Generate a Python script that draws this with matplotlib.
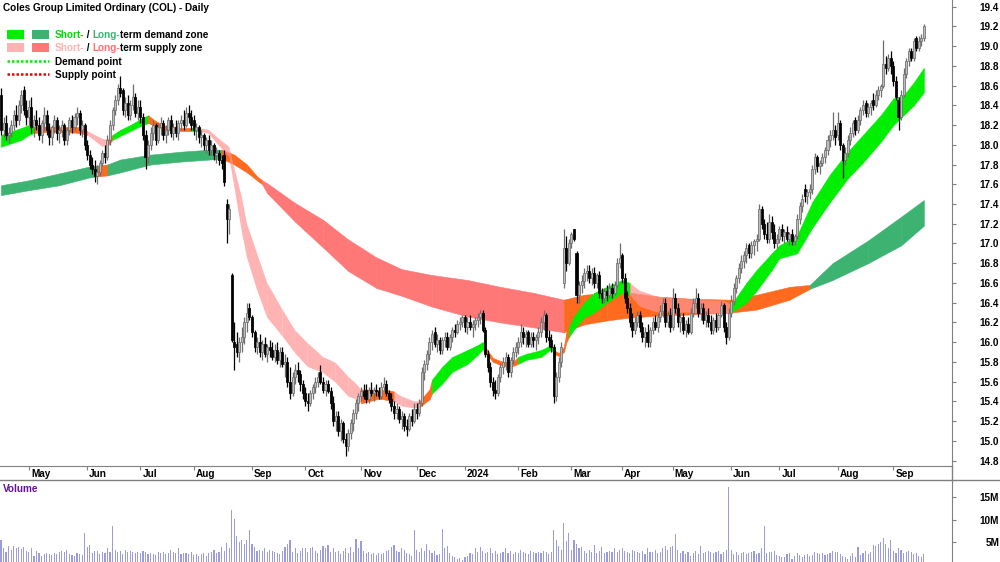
import matplotlib
matplotlib.use('Agg')
import matplotlib.pyplot as plt
import matplotlib.transforms as mtransforms
from matplotlib.patches import Rectangle
from matplotlib.lines import Line2D
import numpy as np
import pandas as pd

plt.rcParams['font.family'] = ['Liberation Sans', 'DejaVu Sans']

# ASX trading days shown on the chart
holidays = ['2023-04-25', '2023-06-12', '2023-12-25', '2023-12-26', '2024-01-01',
            '2024-01-26', '2024-03-29', '2024-04-01', '2024-04-25', '2024-06-10']
dates = pd.bdate_range('2023-04-13', '2024-09-18')
dates = dates[~dates.isin(pd.to_datetime(holidays))]

# daily OHLC, one row of values per month
opens = [
    18.50, 18.15, 18.22, 18.10, 18.12, 18.20, 18.30, 18.25, 18.40, 18.55, 18.35,
    18.28, 18.38, 18.18, 18.25, 18.20, 18.10, 18.22, 18.30, 18.15, 18.08, 18.18, 18.25, 18.12, 18.15, 18.20, 18.05, 18.15, 18.25, 18.18, 18.28, 18.32, 18.15, 18.20,
    18.00, 17.90, 17.80, 17.75, 17.68, 17.72, 17.82, 17.92, 17.88, 18.05, 18.20, 18.35, 18.45, 18.58, 18.55, 18.35, 18.42, 18.30, 18.40, 18.48, 18.32,
    18.38, 18.28, 18.10, 17.88, 18.00, 18.12, 18.20, 18.05, 18.18, 18.22, 18.10, 18.15, 18.25, 18.12, 18.18, 18.12, 18.22, 18.25, 18.20, 18.32, 18.28,
    18.25, 18.15, 18.18, 18.08, 18.10, 18.00, 18.05, 17.95, 18.00, 17.90, 17.92, 17.85, 17.90, 17.40, 17.25, 16.68, 16.00, 15.98, 15.90, 16.00, 16.05, 16.20, 16.35,
    16.25, 16.10, 15.95, 16.00, 15.90, 15.98, 15.88, 15.95, 15.92, 15.85, 15.92, 15.82, 15.90, 15.78, 15.80, 15.60, 15.48, 15.65, 15.72, 15.68, 15.58,
    15.48, 15.40, 15.38, 15.48, 15.55, 15.60, 15.70, 15.60, 15.52, 15.58, 15.50, 15.38, 15.20, 15.25, 15.10, 15.18, 15.02, 14.95, 15.08, 15.18, 15.28, 15.38,
    15.45, 15.50, 15.52, 15.42, 15.52, 15.48, 15.52, 15.50, 15.45, 15.55, 15.58, 15.48, 15.42, 15.35, 15.28, 15.32, 15.22, 15.25, 15.15, 15.12, 15.25, 15.20,
    15.32, 15.28, 15.38, 15.70, 15.78, 15.88, 16.00, 16.10, 15.98, 16.02, 15.92, 16.02, 16.05, 15.95, 16.05, 16.12, 16.10, 16.18, 16.20,
    16.25, 16.15, 16.20, 16.15, 16.18, 16.22, 16.25, 16.30, 16.12, 15.88, 15.75, 15.60, 15.52, 15.48, 15.65, 15.75, 15.80, 15.85, 15.70, 15.82, 15.90,
    15.95, 16.00, 16.10, 16.05, 16.10, 15.98, 16.05, 16.02, 16.05, 16.10, 16.20, 16.28, 16.05, 16.02, 15.95, 15.45, 15.65, 15.80, 16.60, 16.95, 16.80,
    17.00, 17.15, 16.90, 16.48, 16.58, 16.62, 16.70, 16.72, 16.65, 16.70, 16.60, 16.68, 16.50, 16.45, 16.52, 16.48, 16.55, 16.50, 16.58, 16.80,
    16.88, 16.65, 16.45, 16.35, 16.20, 16.12, 16.20, 16.28, 16.15, 16.05, 16.10, 16.00, 16.12, 16.20, 16.15, 16.25, 16.32, 16.40, 16.20, 16.28,
    16.15, 16.45, 16.35, 16.20, 16.25, 16.12, 16.18, 16.10, 16.30, 16.40, 16.45, 16.30, 16.35, 16.22, 16.28, 16.20, 16.12, 16.22, 16.15, 16.28, 16.38, 16.15, 16.05,
    16.30, 16.42, 16.55, 16.65, 16.75, 16.82, 16.88, 16.98, 16.90, 16.98, 17.02, 17.05, 17.35, 17.20, 17.10, 17.05, 17.22, 17.12, 17.00,
    17.05, 17.15, 17.08, 17.12, 17.05, 17.10, 17.02, 17.08, 17.25, 17.38, 17.55, 17.48, 17.52, 17.55, 17.75, 17.88, 17.78, 17.82, 17.88, 17.95, 18.05, 18.10, 18.15,
    18.10, 18.22, 18.00, 17.85, 17.92, 18.05, 18.12, 18.25, 18.15, 18.25, 18.35, 18.42, 18.32, 18.38, 18.45, 18.40, 18.50, 18.55, 18.60, 18.82, 18.78, 18.88,
    18.80, 18.65, 18.45, 18.28, 18.50, 18.72, 18.85, 18.95, 18.88, 19.08, 18.98, 19.05, 19.08,
]
highs = [
    18.58, 18.28, 18.30, 18.18, 18.25, 18.35, 18.40, 18.45, 18.55, 18.60, 18.45,
    18.45, 18.48, 18.30, 18.35, 18.28, 18.25, 18.38, 18.35, 18.22, 18.20, 18.30, 18.28, 18.20, 18.25, 18.22, 18.18, 18.28, 18.30, 18.32, 18.38, 18.35, 18.25, 18.22,
    18.05, 17.95, 17.88, 17.85, 17.80, 17.85, 17.95, 18.00, 18.10, 18.25, 18.38, 18.50, 18.62, 18.70, 18.58, 18.48, 18.50, 18.45, 18.62, 18.52, 18.45,
    18.45, 18.32, 18.15, 18.05, 18.18, 18.25, 18.22, 18.22, 18.28, 18.25, 18.20, 18.28, 18.30, 18.22, 18.25, 18.25, 18.30, 18.35, 18.38, 18.40, 18.35,
    18.30, 18.22, 18.20, 18.15, 18.12, 18.08, 18.10, 18.05, 18.02, 17.98, 17.95, 17.90, 17.95, 17.45, 17.40, 16.70, 16.20, 16.10, 16.05, 16.15, 16.25, 16.40, 16.40,
    16.28, 16.12, 16.05, 16.08, 16.02, 16.05, 15.98, 16.02, 16.00, 15.98, 16.00, 15.95, 15.95, 15.88, 15.85, 15.75, 15.70, 15.78, 15.80, 15.72, 15.62,
    15.55, 15.48, 15.52, 15.58, 15.65, 15.70, 15.77, 15.65, 15.62, 15.62, 15.55, 15.45, 15.30, 15.30, 15.22, 15.20, 15.08, 15.12, 15.22, 15.32, 15.42, 15.48,
    15.55, 15.58, 15.58, 15.55, 15.60, 15.55, 15.58, 15.55, 15.60, 15.65, 15.62, 15.52, 15.48, 15.40, 15.38, 15.35, 15.30, 15.28, 15.22, 15.28, 15.32, 15.38,
    15.38, 15.42, 15.75, 15.82, 15.92, 16.05, 16.12, 16.15, 16.08, 16.05, 16.05, 16.10, 16.10, 16.08, 16.15, 16.18, 16.22, 16.25, 16.28,
    16.28, 16.25, 16.28, 16.22, 16.25, 16.30, 16.33, 16.33, 16.15, 15.92, 15.80, 15.65, 15.62, 15.68, 15.78, 15.85, 15.90, 15.88, 15.85, 15.95, 16.00,
    16.05, 16.18, 16.15, 16.12, 16.12, 16.10, 16.10, 16.08, 16.15, 16.25, 16.33, 16.30, 16.12, 16.08, 15.98, 15.70, 15.85, 16.00, 17.15, 17.08, 17.05,
    17.12, 17.15, 16.92, 16.62, 16.68, 16.75, 16.78, 16.78, 16.75, 16.76, 16.70, 16.72, 16.55, 16.55, 16.58, 16.60, 16.60, 16.62, 16.85, 17.00,
    16.90, 16.70, 16.52, 16.40, 16.30, 16.25, 16.32, 16.32, 16.20, 16.15, 16.18, 16.15, 16.25, 16.28, 16.30, 16.38, 16.45, 16.45, 16.32, 16.35,
    16.55, 16.50, 16.40, 16.30, 16.30, 16.22, 16.25, 16.35, 16.45, 16.55, 16.50, 16.40, 16.40, 16.32, 16.35, 16.28, 16.25, 16.30, 16.30, 16.42, 16.40, 16.20, 16.35,
    16.48, 16.60, 16.68, 16.80, 16.88, 16.92, 17.00, 17.00, 17.02, 17.05, 17.10, 17.40, 17.38, 17.25, 17.22, 17.30, 17.28, 17.20, 17.10,
    17.18, 17.20, 17.15, 17.18, 17.12, 17.15, 17.10, 17.30, 17.42, 17.50, 17.60, 17.55, 17.60, 17.80, 17.92, 17.90, 17.85, 17.92, 17.98, 18.10, 18.15, 18.33, 18.20,
    18.33, 18.25, 18.02, 17.98, 18.10, 18.18, 18.25, 18.28, 18.30, 18.38, 18.45, 18.45, 18.42, 18.45, 18.52, 18.55, 18.60, 18.62, 19.06, 18.90, 18.92, 18.95,
    18.85, 18.70, 18.48, 18.55, 18.78, 18.88, 18.98, 18.98, 19.08, 19.10, 19.10, 19.12, 19.22,
]
lows = [
    18.10, 18.08, 18.05, 18.02, 18.08, 18.15, 18.18, 18.20, 18.32, 18.30, 18.20,
    18.20, 18.12, 18.08, 18.15, 18.05, 18.02, 18.15, 18.10, 18.00, 18.00, 18.12, 18.05, 18.02, 18.08, 18.00, 18.00, 18.10, 18.12, 18.15, 18.20, 18.10, 18.08, 17.95,
    17.85, 17.75, 17.70, 17.62, 17.60, 17.68, 17.78, 17.82, 17.85, 18.00, 18.15, 18.30, 18.40, 18.48, 18.30, 18.28, 18.25, 18.25, 18.35, 18.28, 18.25,
    18.22, 18.05, 17.75, 17.82, 17.95, 18.05, 18.00, 18.02, 18.10, 18.05, 18.02, 18.10, 18.08, 18.05, 18.08, 18.05, 18.15, 18.15, 18.18, 18.22, 18.15,
    18.10, 18.05, 18.02, 17.98, 17.95, 17.92, 17.90, 17.90, 17.85, 17.82, 17.80, 17.75, 17.58, 17.00, 17.10, 16.00, 15.72, 15.85, 15.80, 15.90, 15.98, 16.10, 16.22,
    16.05, 15.90, 15.88, 15.85, 15.82, 15.85, 15.80, 15.85, 15.82, 15.80, 15.78, 15.75, 15.75, 15.65, 15.55, 15.42, 15.45, 15.58, 15.60, 15.50, 15.42,
    15.35, 15.30, 15.35, 15.42, 15.48, 15.55, 15.58, 15.48, 15.45, 15.48, 15.32, 15.15, 15.10, 15.05, 15.00, 14.98, 14.85, 14.90, 15.02, 15.10, 15.22, 15.30,
    15.40, 15.42, 15.38, 15.38, 15.45, 15.40, 15.45, 15.42, 15.42, 15.50, 15.45, 15.38, 15.30, 15.22, 15.22, 15.18, 15.12, 15.10, 15.05, 15.10, 15.15, 15.18,
    15.22, 15.25, 15.35, 15.62, 15.72, 15.82, 15.92, 15.95, 15.90, 15.88, 15.88, 15.95, 15.92, 15.92, 16.00, 16.05, 16.08, 16.12, 16.15,
    16.10, 16.08, 16.12, 16.05, 16.12, 16.15, 16.18, 16.10, 15.85, 15.70, 15.55, 15.45, 15.42, 15.45, 15.60, 15.68, 15.72, 15.65, 15.65, 15.78, 15.85,
    15.88, 15.95, 15.98, 15.95, 15.95, 15.95, 15.95, 15.92, 15.98, 16.05, 16.12, 16.00, 15.95, 15.90, 15.38, 15.40, 15.60, 15.75, 16.55, 16.72, 16.78,
    16.95, 17.02, 16.40, 16.40, 16.50, 16.55, 16.62, 16.60, 16.58, 16.55, 16.55, 16.45, 16.40, 16.40, 16.42, 16.45, 16.45, 16.48, 16.55, 16.75,
    16.60, 16.40, 16.30, 16.15, 16.05, 16.08, 16.15, 16.10, 16.00, 15.95, 15.95, 15.95, 16.08, 16.12, 16.10, 16.20, 16.25, 16.15, 16.15, 16.10,
    16.12, 16.30, 16.15, 16.10, 16.08, 16.05, 16.08, 16.08, 16.25, 16.35, 16.25, 16.22, 16.18, 16.15, 16.15, 16.08, 16.08, 16.10, 16.12, 16.25, 16.10, 15.98, 16.02,
    16.25, 16.38, 16.50, 16.60, 16.70, 16.75, 16.80, 16.85, 16.85, 16.88, 16.92, 17.02, 17.15, 17.05, 17.00, 17.00, 17.05, 16.95, 16.95,
    17.00, 17.02, 17.00, 17.02, 16.98, 16.98, 16.98, 17.05, 17.20, 17.32, 17.42, 17.40, 17.45, 17.50, 17.70, 17.72, 17.70, 17.78, 17.82, 17.90, 17.98, 18.05, 18.00,
    18.05, 17.95, 17.66, 17.80, 17.88, 18.00, 18.08, 18.10, 18.12, 18.20, 18.30, 18.28, 18.28, 18.30, 18.35, 18.38, 18.45, 18.48, 18.58, 18.72, 18.75, 18.72,
    18.60, 18.45, 18.15, 18.25, 18.48, 18.68, 18.80, 18.85, 18.85, 18.95, 18.95, 19.00, 19.05,
]
closes = [
    18.15, 18.22, 18.10, 18.12, 18.20, 18.30, 18.25, 18.40, 18.50, 18.35, 18.28,
    18.38, 18.18, 18.25, 18.20, 18.10, 18.22, 18.30, 18.15, 18.08, 18.18, 18.25, 18.12, 18.15, 18.20, 18.05, 18.15, 18.25, 18.18, 18.28, 18.32, 18.15, 18.20, 18.00,
    17.90, 17.80, 17.75, 17.68, 17.72, 17.82, 17.92, 17.88, 18.05, 18.20, 18.35, 18.45, 18.58, 18.52, 18.35, 18.42, 18.30, 18.40, 18.48, 18.32, 18.38,
    18.28, 18.10, 17.88, 18.00, 18.12, 18.20, 18.05, 18.18, 18.22, 18.10, 18.15, 18.25, 18.12, 18.18, 18.12, 18.22, 18.25, 18.20, 18.32, 18.28, 18.20,
    18.15, 18.18, 18.08, 18.10, 18.00, 18.05, 17.95, 18.00, 17.90, 17.92, 17.85, 17.82, 17.62, 17.25, 17.35, 16.02, 15.95, 15.90, 16.00, 16.05, 16.20, 16.30, 16.25,
    16.10, 15.95, 16.00, 15.90, 15.98, 15.88, 15.95, 15.92, 15.85, 15.92, 15.82, 15.90, 15.78, 15.80, 15.60, 15.48, 15.65, 15.72, 15.68, 15.58, 15.48,
    15.40, 15.38, 15.48, 15.55, 15.60, 15.65, 15.60, 15.52, 15.58, 15.50, 15.38, 15.20, 15.25, 15.10, 15.18, 15.02, 14.95, 15.08, 15.18, 15.28, 15.38, 15.45,
    15.50, 15.45, 15.42, 15.52, 15.48, 15.52, 15.50, 15.45, 15.55, 15.58, 15.48, 15.42, 15.35, 15.28, 15.32, 15.22, 15.25, 15.15, 15.12, 15.25, 15.20, 15.32,
    15.28, 15.38, 15.70, 15.78, 15.88, 16.00, 16.08, 15.98, 16.02, 15.92, 16.02, 16.05, 15.95, 16.05, 16.12, 16.10, 16.18, 16.20, 16.25,
    16.15, 16.20, 16.15, 16.18, 16.22, 16.25, 16.30, 16.12, 15.88, 15.75, 15.60, 15.52, 15.48, 15.65, 15.75, 15.80, 15.85, 15.70, 15.82, 15.90, 15.95,
    16.00, 16.10, 16.05, 16.08, 15.98, 16.05, 16.02, 16.05, 16.10, 16.20, 16.28, 16.05, 16.02, 15.95, 15.45, 15.65, 15.80, 15.95, 16.95, 16.80, 17.00,
    17.10, 17.05, 16.48, 16.58, 16.62, 16.70, 16.72, 16.65, 16.70, 16.60, 16.68, 16.50, 16.45, 16.52, 16.48, 16.55, 16.50, 16.58, 16.80, 16.85,
    16.65, 16.45, 16.35, 16.20, 16.12, 16.20, 16.28, 16.15, 16.05, 16.10, 16.00, 16.12, 16.20, 16.15, 16.25, 16.32, 16.40, 16.20, 16.28, 16.15,
    16.45, 16.35, 16.20, 16.25, 16.12, 16.18, 16.10, 16.30, 16.40, 16.45, 16.30, 16.35, 16.22, 16.28, 16.20, 16.12, 16.22, 16.15, 16.28, 16.38, 16.15, 16.05, 16.30,
    16.42, 16.55, 16.65, 16.75, 16.82, 16.88, 16.95, 16.90, 16.98, 17.02, 17.05, 17.35, 17.20, 17.10, 17.05, 17.22, 17.12, 17.00, 17.05,
    17.15, 17.08, 17.12, 17.05, 17.10, 17.02, 17.08, 17.25, 17.38, 17.45, 17.48, 17.52, 17.55, 17.75, 17.88, 17.78, 17.82, 17.88, 17.95, 18.05, 18.10, 18.15, 18.08,
    18.22, 18.00, 17.85, 17.92, 18.05, 18.12, 18.22, 18.15, 18.25, 18.35, 18.40, 18.32, 18.38, 18.42, 18.40, 18.50, 18.55, 18.60, 18.82, 18.78, 18.88, 18.80,
    18.65, 18.48, 18.28, 18.50, 18.72, 18.85, 18.95, 18.88, 19.05, 18.98, 19.05, 19.08, 19.20,
]
# volume in millions of shares
volumes = [
    5.4, 3.5, 2.8, 4.0, 3.2, 4.0, 3.5, 3.8, 3.3, 3.8, 3.0,
    2.8, 3.5, 1.8, 3.0, 2.5, 1.8, 2.2, 2.5, 2.3, 2.0, 2.4, 2.2, 2.8, 3.0, 2.6, 3.2, 2.2, 2.0, 1.8, 2.5, 2.2, 2.0, 7.0,
    3.8, 4.2, 2.5, 3.0, 3.0, 2.2, 2.8, 2.5, 3.5, 2.8, 8.5, 3.2, 2.8, 3.0, 2.2, 3.2, 2.6, 3.0, 2.8, 2.5, 2.8,
    2.5, 3.0, 2.8, 2.2, 2.5, 2.2, 2.0, 2.6, 2.4, 2.8, 2.2, 2.5, 3.2, 2.6, 2.4, 3.6, 2.3, 2.4, 2.5, 2.2, 2.8,
    2.0, 2.3, 1.8, 2.2, 2.5, 1.8, 2.4, 2.6, 3.2, 2.5, 2.8, 3.8, 3.0, 4.7, 3.5, 12.2, 10.2, 6.2, 5.0, 5.4, 4.6, 5.3, 7.6,
    4.5, 3.8, 3.0, 3.2, 3.0, 3.5, 2.8, 3.2, 3.0, 2.8, 2.5, 2.2, 3.0, 3.8, 4.6, 5.3, 2.8, 3.5, 2.5, 3.0, 3.5,
    3.5, 2.8, 3.5, 3.8, 3.0, 2.5, 3.2, 4.0, 3.5, 4.2, 2.8, 3.5, 2.8, 3.0, 2.2, 3.0, 3.5, 2.5, 3.8, 2.8, 5.7, 3.5,
    5.2, 3.0, 2.5, 2.8, 2.2, 2.5, 2.0, 2.5, 2.2, 2.4, 3.0, 3.2, 3.8, 4.2, 3.0, 2.8, 3.5, 3.2, 2.5, 2.2, 1.8, 7.6,
    3.2, 2.8, 3.5, 3.0, 4.5, 3.2, 2.5, 3.0, 2.0, 2.2, 7.8, 3.5, 4.0, 2.5, 1.8, 1.5, 1.2, 1.3, 1.0,
    1.5, 1.8, 2.5, 2.2, 3.5, 2.8, 3.8, 3.0, 2.5, 2.8, 3.5, 2.5, 3.0, 2.2, 2.5, 2.8, 3.5, 2.5, 3.0, 2.2, 2.8,
    2.5, 3.2, 2.8, 2.5, 2.2, 3.0, 2.6, 2.4, 2.8, 2.5, 3.0, 2.6, 2.2, 2.8, 7.6, 5.3, 4.0, 3.2, 9.3, 5.2, 7.0,
    3.2, 5.4, 4.5, 3.5, 3.8, 3.0, 2.5, 3.2, 2.8, 4.2, 2.5, 3.0, 3.8, 2.5, 2.8, 3.0, 2.6, 3.5, 2.8, 3.2,
    3.5, 3.0, 2.8, 2.5, 3.2, 3.0, 2.8, 2.5, 3.0, 2.2, 3.5, 2.8, 2.6, 3.2, 2.5, 2.8, 3.5, 4.0, 3.2, 3.8,
    4.0, 6.7, 3.2, 2.5, 3.0, 2.2, 2.8, 1.8, 2.5, 3.0, 2.2, 4.0, 2.5, 2.8, 3.0, 2.6, 2.5, 2.8, 3.0, 2.2, 2.8, 3.2, 17.4,
    3.2, 2.2, 2.6, 2.0, 2.5, 2.8, 2.2, 2.5, 2.8, 3.0, 2.2, 2.5, 3.5, 8.5, 2.5, 2.8, 2.6, 3.0, 2.0,
    1.8, 1.6, 1.5, 2.2, 2.5, 1.2, 1.8, 2.5, 2.0, 1.5, 2.0, 2.2, 1.8, 2.0, 2.8, 2.5, 2.2, 2.5, 2.0, 2.2, 2.5, 3.0, 2.6,
    2.8, 2.2, 1.8, 1.5, 1.2, 1.8, 2.5, 1.5, 3.8, 2.0, 2.5, 3.0, 2.2, 2.8, 4.2, 4.0, 4.5, 5.0, 5.8, 4.5, 3.5, 5.4,
    3.0, 2.5, 3.5, 3.2, 2.5, 2.8, 3.0, 2.8, 2.2, 2.5, 1.8, 1.5, 2.2,
]

# short-term zone edges at bar positions; D = demand, S = supply, N = neutral
short_at = [0, 8, 11, 13, 19, 25, 31, 34, 37, 40, 42, 44, 47, 51, 55, 58, 61, 65, 71, 75, 78, 82, 86, 90, 92,
            95, 97, 101, 105, 111, 116, 121, 127, 132, 137, 140, 142, 148, 151, 155, 158, 163, 165, 169, 170,
            174, 178, 184, 188, 190, 191, 194, 198, 202, 204, 207, 213, 217, 218, 220, 222, 223, 224, 226, 230,
            234, 239, 245, 248, 252, 259, 272, 285, 288, 294, 298, 304, 307, 314, 320, 327, 334, 340, 347, 352,
            356, 360, 364]
short_top = [18.10, 18.17, 18.20, 18.19, 18.18, 18.18, 18.18, 18.14, 18.10, 18.06, 18.05, 18.10, 18.15, 18.20, 18.26,
             18.30, 18.24, 18.19, 18.17, 18.17, 18.17, 18.15, 18.06, 17.98, 17.77, 17.47, 17.20, 16.90, 16.60, 16.33,
             16.12, 15.99, 15.85, 15.79, 15.65, 15.58, 15.52, 15.52, 15.52, 15.50, 15.45, 15.40, 15.40, 15.52, 15.62,
             15.75, 15.85, 15.92, 15.97, 16.00, 15.95, 15.84, 15.80, 15.80, 15.85, 15.88, 15.92, 15.97, 15.92, 15.89,
             15.95, 16.10, 16.15, 16.26, 16.40, 16.50, 16.56, 16.63, 16.60, 16.52, 16.46, 16.43, 16.42, 16.38, 16.60,
             16.73, 16.90, 16.98, 17.08, 17.42, 17.70, 17.93, 18.10, 18.30, 18.47, 18.50, 18.63, 18.78]
short_bot = [17.98, 18.05, 18.10, 18.12, 18.13, 18.13, 18.12, 18.10, 18.04, 17.98, 17.99, 18.05, 18.09, 18.14, 18.19,
             18.22, 18.19, 18.15, 18.14, 18.14, 18.14, 18.11, 17.99, 17.88, 17.58, 17.12, 16.86, 16.53, 16.25, 16.06,
             15.89, 15.75, 15.69, 15.59, 15.45, 15.42, 15.38, 15.42, 15.42, 15.40, 15.35, 15.33, 15.34, 15.42, 15.48,
             15.58, 15.70, 15.78, 15.87, 15.93, 15.90, 15.80, 15.76, 15.76, 15.78, 15.82, 15.85, 15.93, 15.88, 15.86,
             15.90, 16.00, 16.05, 16.13, 16.25, 16.30, 16.40, 16.50, 16.48, 16.36, 16.30, 16.30, 16.28, 16.30, 16.40,
             16.52, 16.73, 16.85, 16.90, 17.16, 17.42, 17.66, 17.82, 18.03, 18.20, 18.30, 18.40, 18.53]
short_state = list('DDDNNNNSSSNDDDDNNNNDSSSSSSSSSSSSSSSSNNNSSSNNDDDDDDNNNNDDDDNNNNDDDDDDSSSSSDDDDDDDDDDDDDDDD')

long_at = [0, 11, 23, 35, 38, 42, 47, 59, 71, 82, 87, 92, 97, 101, 103, 105, 116, 127, 137, 148, 158, 170, 184,
           197, 210, 222, 230, 239, 248, 260, 272, 288, 298, 311, 319, 328, 342, 355, 364]
long_top = [17.59, 17.64, 17.71, 17.78, 17.79, 17.80, 17.85, 17.90, 17.93, 17.95, 17.95, 17.90, 17.80, 17.68, 17.64,
            17.61, 17.41, 17.24, 17.04, 16.86, 16.74, 16.68, 16.63, 16.56, 16.50, 16.43, 16.48, 16.50, 16.50, 16.46,
            16.44, 16.43, 16.48, 16.56, 16.58, 16.80, 17.03, 17.27, 17.44]
long_bot = [17.49, 17.54, 17.59, 17.67, 17.68, 17.69, 17.72, 17.80, 17.83, 17.85, 17.86, 17.80, 17.72, 17.64, 17.60,
            17.51, 17.22, 16.96, 16.72, 16.55, 16.47, 16.36, 16.26, 16.20, 16.15, 16.10, 16.18, 16.22, 16.25, 16.27,
            16.28, 16.30, 16.33, 16.43, 16.54, 16.63, 16.80, 16.98, 17.18]
long_state = list('DDDDNDDDDDNNNNSSSSSSSSSSSNNNNNNNNNDDDDD')

month_names = ['Jan', 'Feb', 'Mar', 'Apr', 'May', 'Jun', 'Jul', 'Aug', 'Sep', 'Oct', 'Nov', 'Dec']

# (colour, alpha); the short supply zone is see-through over the long zone
short_colors = {'D': ('#00ee00', 1.0), 'S': ('#ff9393', 0.7), 'N': ('#ff6a1f', 1.0)}
long_colors = {'D': ('#3cb371', 1.0), 'S': ('#ff7878', 1.0), 'N': ('#ff6a1f', 1.0)}

W, H = 1000, 562
fig = plt.figure(figsize=(W / 100, H / 100), dpi=100)


def fy(py):
    return 1 - py / H


ax = fig.add_axes([0, fy(466), 952 / W, 466 / H])
axv = fig.add_axes([0, 0, 952 / W, (562 - 480) / H])

x = np.arange(len(dates))
o = np.array(opens)
hi = np.array(highs)
lo = np.array(lows)
c = np.array(closes)


def draw_zone(at, top, bot, state, colors):
    for k in range(len(at) - 1):
        col, a = colors[state[k]]
        ax.fill_between(at[k:k + 2], bot[k:k + 2], top[k:k + 2], facecolor=col, alpha=a,
                        edgecolor=col if a == 1.0 else 'none', linewidth=0.4, zorder=1)


draw_zone(long_at, long_top, long_bot, long_state, long_colors)
draw_zone(short_at, short_top, short_bot, short_state, short_colors)

# candles
up = c >= o
grey = '#6e6e6e'
ax.vlines(x, lo, hi, colors=np.where(up, grey, 'black'), linewidth=0.9, zorder=3)
ax.bar(x, np.maximum(np.abs(c - o), 0.012), bottom=np.minimum(o, c), width=0.8,
       color=np.where(up, '#bdbdbd', 'black'), edgecolor=np.where(up, grey, 'black'),
       linewidth=0.55, zorder=4)

ax.set_xlim(-0.39, 375.1)
ax.set_ylim(14.745, 19.467)
yt = np.round(np.arange(14.8, 19.41, 0.2), 1)
ax.set_yticks(yt)
ax.set_yticklabels(['%.1f' % v for v in yt])
ax.yaxis.tick_right()
ax.tick_params(axis='y', direction='out', length=3, color='#808080', pad=31,
               labelsize=7.2)
for t in ax.get_yticklabels():
    t.set_ha('right')
    t.set_fontweight('bold')

# month ticks
starts = [i for i in range(1, len(dates)) if dates[i].month != dates[i - 1].month]
ax.set_xticks(starts)
ax.set_xticklabels([])
ax.tick_params(axis='x', direction='out', length=3, color='#808080')
shift = mtransforms.ScaledTranslation(2 / 100, -3 / 100, fig.dpi_scale_trans)
trans = mtransforms.blended_transform_factory(ax.transData, ax.transAxes) + shift
for i in starts:
    m = dates[i].month
    lab = str(dates[i].year) if m == 1 else month_names[m - 1]
    ax.text(i, 0, lab, transform=trans, ha='left', va='top', fontsize=7.2,
            fontweight='bold', clip_on=False)

for s in ['top', 'left']:
    ax.spines[s].set_visible(False)
for s in ['bottom', 'right']:
    ax.spines[s].set_color('#808080')

# volume panel
axv.bar(x, np.array(volumes) * 1e6, width=0.45, color='#9c9cdc', zorder=2)
axv.set_xlim(ax.get_xlim())
axv.set_ylim(0.45e6, 18.9e6)
axv.set_xticks([])
axv.yaxis.tick_right()
axv.set_yticks([5e6, 10e6, 15e6])
axv.set_yticklabels(['5M', '10M', '15M'])
axv.tick_params(axis='y', direction='out', length=3, color='#808080', pad=31, labelsize=7.2)
for t in axv.get_yticklabels():
    t.set_ha('right')
    t.set_fontweight('bold')
for s in ['top', 'left', 'bottom']:
    axv.spines[s].set_visible(False)
axv.spines['right'].set_color('#808080')
axv.text(3 / 952, 1 - 9 / 82, 'Volume', transform=axv.transAxes, color='#66119a',
         fontsize=7.2, fontweight='bold', ha='left', va='center')

# separators between the panels
fig.add_artist(Line2D([0, 1], [fy(480), fy(480)], color='#808080', linewidth=1))
fig.add_artist(Line2D([952 / W, 952 / W], [fy(466), fy(480)], color='#808080', linewidth=1))

# title and legend
font = dict(fontsize=7.2, fontweight='bold')
fig.text(3 / W, fy(8), 'Coles Group Limited Ordinary (COL) - Daily', ha='left', va='center', **font)

for y0, c1, c2 in [(30, '#00ee00', '#3cb371'), (43, '#ffb3b3', '#ff7878')]:
    fig.add_artist(Rectangle((7 / W, fy(y0 + 9)), 17 / W, 9 / H, transform=fig.transFigure,
                             facecolor=c1, edgecolor='none'))
    fig.add_artist(Rectangle((32 / W, fy(y0 + 9)), 17 / W, 9 / H, transform=fig.transFigure,
                             facecolor=c2, edgecolor='none'))


def colored_line(py, parts):
    t = fig.text(55 / W, fy(py), parts[0][0], color=parts[0][1], ha='left', va='center', **font)
    for s, col in parts[1:]:
        t = ax.annotate(s, xy=(1, 0.5), xycoords=t, ha='left', va='center', color=col,
                        annotation_clip=False, **font)


colored_line(35, [('Short-', '#00dd00'), (' / ', 'black'), ('Long-', '#3cb371'),
                  ('term demand zone', 'black')])
colored_line(48, [('Short-', '#ffb3b3'), (' / ', 'black'), ('Long-', '#ff7070'),
                  ('term supply zone', 'black')])
for py, col, lab in [(61, '#00ee00', 'Demand point'), (74, '#ee0000', 'Supply point')]:
    fig.add_artist(Line2D([7 / W, 49 / W], [fy(py), fy(py)], color=col, linewidth=1.8,
                          linestyle=(0, (1, 0.8))))
    fig.text(55 / W, fy(py + 1), lab, ha='left', va='center', **font)

fig.savefig('out.png', dpi=100)
